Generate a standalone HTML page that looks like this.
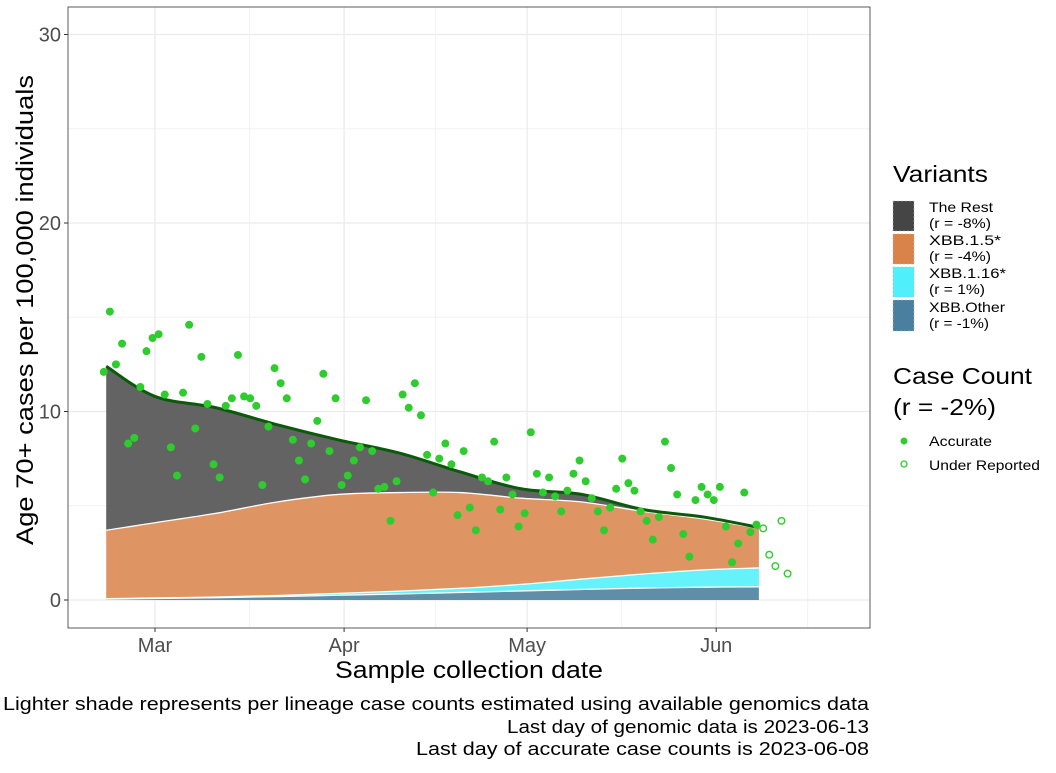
<!DOCTYPE html>
<html><head><meta charset="utf-8"><style>
body{margin:0;background:#fff;width:1056px;height:768px;overflow:hidden;font-family:"Liberation Sans",sans-serif}
svg text{font-family:"Liberation Sans",sans-serif}
</style></head><body>
<svg id="chart" width="1056" height="768" xmlns="http://www.w3.org/2000/svg">
<g id="grid"></g>
<g id="areas"></g>
<g id="pts"></g>
<rect x="68" y="7" width="802" height="621" fill="none" stroke="#333" stroke-width="0.8"/>
<g id="axes"></g>
<text transform="translate(33,310) rotate(-90)" text-anchor="middle" font-size="24" fill="#000" textLength="470" lengthAdjust="spacingAndGlyphs">Age 70+ cases per 100,000 individuals</text>
<text x="469" y="678" text-anchor="middle" font-size="24" fill="#000" textLength="268" lengthAdjust="spacingAndGlyphs">Sample collection date</text>
<g font-size="18" fill="#000" text-anchor="end">
<text x="869" y="710" textLength="866" lengthAdjust="spacingAndGlyphs">Lighter shade represents per lineage case counts estimated using available genomics data</text>
<text x="869" y="733" textLength="362" lengthAdjust="spacingAndGlyphs">Last day of genomic data is 2023-06-13</text>
<text x="869" y="755" textLength="453" lengthAdjust="spacingAndGlyphs">Last day of accurate case counts is 2023-06-08</text>
</g>
<g>
<text x="893" y="182" font-size="23" textLength="95" lengthAdjust="spacingAndGlyphs">Variants</text>
<rect x="893" y="201" width="21" height="30" fill="#454545" stroke="#bbb" stroke-dasharray="2,2" stroke-width="0.6"/>
<rect x="893" y="234" width="21" height="30" fill="#d9824a" stroke="#bbb" stroke-dasharray="2,2" stroke-width="0.6"/>
<rect x="893" y="267" width="21" height="30" fill="#4ff0fb" stroke="#bbb" stroke-dasharray="2,2" stroke-width="0.6"/>
<rect x="893" y="300" width="21" height="31" fill="#4a7fa0" stroke="#bbb" stroke-dasharray="2,2" stroke-width="0.6"/>
<g font-size="14" fill="#000">
<text x="929" y="212" textLength="64" lengthAdjust="spacingAndGlyphs">The Rest</text><text x="929" y="228" textLength="62" lengthAdjust="spacingAndGlyphs">(r = -8%)</text>
<text x="929" y="245" textLength="72" lengthAdjust="spacingAndGlyphs">XBB.1.5*</text><text x="929" y="261" textLength="62" lengthAdjust="spacingAndGlyphs">(r = -4%)</text>
<text x="929" y="278" textLength="77" lengthAdjust="spacingAndGlyphs">XBB.1.16*</text><text x="929" y="294" textLength="56" lengthAdjust="spacingAndGlyphs">(r = 1%)</text>
<text x="929" y="312" textLength="76" lengthAdjust="spacingAndGlyphs">XBB.Other</text><text x="929" y="328" textLength="60" lengthAdjust="spacingAndGlyphs">(r = -1%)</text>
</g>
</g>
<g>
<text x="893" y="384" font-size="23" textLength="139" lengthAdjust="spacingAndGlyphs">Case Count</text>
<text x="893" y="415" font-size="23" textLength="103" lengthAdjust="spacingAndGlyphs">(r = -2%)</text>
<circle cx="904" cy="441" r="3.5" fill="#2ecc2e"/>
<circle cx="904" cy="464" r="3" fill="none" stroke="#2ecc2e" stroke-width="1.3"/>
<text x="929" y="446" font-size="14" textLength="63" lengthAdjust="spacingAndGlyphs">Accurate</text>
<text x="929" y="470" font-size="14" textLength="111" lengthAdjust="spacingAndGlyphs">Under Reported</text>
</g>
</svg>
<script>
// smooth curve knots (day offset from Mar 1)
const knotDays=[-8,0,10,20,30,40,50,60,70,80,90,99];
const xbbOther=[0.05,0.08,0.12,0.18,0.25,0.32,0.4,0.48,0.56,0.63,0.68,0.7];
const xbb116=[0.02,0.03,0.04,0.06,0.1,0.15,0.22,0.35,0.55,0.75,0.92,1.0];
const xbb15=[3.63,3.99,4.44,4.96,5.25,5.23,5.08,4.57,4.09,3.32,2.7,2.1];
const theRest=[8.7,6.7,5.6,4.1,2.9,2.1,1.1,0.5,0.4,0.1,0.1,0.05];
// accurate daily counts starting Feb 21 (day -8)
const accurate=[12.1,15.3,12.5,13.6,8.3,8.6,11.3,13.2,13.9,14.1,10.9,8.1,6.6,11.0,14.6,9.1,12.9,10.4,7.2,6.5,10.3,10.7,13.0,10.8,10.7,10.3,6.1,9.2,12.3,11.5,10.7,8.5,7.4,6.4,8.3,9.5,12.0,7.9,10.7,6.1,6.6,7.4,8.1,10.6,7.9,5.9,6.0,4.2,6.3,10.9,10.2,11.5,9.8,7.7,5.7,7.5,
8.3,7.2,4.5,7.9,4.9,3.7,6.5,6.3,8.4,4.8,6.5,5.6,3.9,4.6,8.9,6.7,5.7,6.5,5.5,4.7,5.8,6.7,7.4,6.3,5.4,4.7,3.7,4.9,5.9,7.5,6.2,5.8,4.7,4.2,3.2,4.4,8.4,7.0,5.6,3.5,2.3,5.3,6.0,5.6,5.3,6.0,3.9,2.0,3.0,5.7,3.6,4.0];
const underReported=[3.8,2.4,1.8,4.2,1.4];
const yTicks=[0,10,20,30];
const monthLabels=["Mar","Apr","May","Jun"];
const monthDays=[0,31,61,92];

const X=d=>155+d*6.1, Y=v=>600-v*18.85;
const NS="http://www.w3.org/2000/svg";
function mk(t,a,p){const e=document.createElementNS(NS,t);for(const k in a)e.setAttribute(k,a[k]);p.appendChild(e);return e;}
const grid=document.getElementById('grid'),axes=document.getElementById('axes');
[5,15,25].forEach(v=>{const l=mk('line',{x1:68,x2:870,y1:Y(v),y2:Y(v),stroke:'#f2f2f2','stroke-width':1},grid);

});
[15.5,46,76.5,107].forEach(d=>{const l=mk('line',{x1:X(d),x2:X(d),y1:7,y2:628,stroke:'#f2f2f2','stroke-width':1},grid);

});
yTicks.forEach(v=>{const l=mk('line',{x1:68,x2:870,y1:Y(v),y2:Y(v),stroke:'#ebebeb','stroke-width':1.3},grid);


mk('line',{x1:64,x2:68,y1:Y(v),y2:Y(v),stroke:'#333'},axes);
const t=mk('text',{x:61,y:Y(v)+7,'text-anchor':'end','font-size':20,fill:'#4d4d4d'},axes);t.textContent=v;

});
monthDays.forEach((d,i)=>{const l=mk('line',{x1:X(d),x2:X(d),y1:7,y2:628,stroke:'#ebebeb','stroke-width':1.3},grid);


mk('line',{x1:X(d),x2:X(d),y1:628,y2:632,stroke:'#333'},axes);
const t=mk('text',{x:X(d),y:652,'text-anchor':'middle','font-size':20,fill:'#4d4d4d'},axes);t.textContent=monthLabels[i];

});
// cumulative series
const n=knotDays.length,c1=[],c2=[],c3=[],c4=[];
for(let i=0;i<n;i++){c1[i]=xbbOther[i];c2[i]=c1[i]+xbb116[i];c3[i]=c2[i]+xbb15[i];c4[i]=c3[i]+theRest[i];}
function pts(arr){return knotDays.map((d,i)=>[X(d),Y(arr[i])]);}
function curve(p){let s='';for(let i=0;i<p.length-1;i++){const p0=p[i-1]||p[i],p1=p[i],p2=p[i+1],p3=p[i+2]||p2;
const a=[p1[0]+(p2[0]-p0[0])/6,p1[1]+(p2[1]-p0[1])/6],b=[p2[0]-(p3[0]-p1[0])/6,p2[1]-(p3[1]-p1[1])/6];
s+=` C${a[0]},${a[1]} ${b[0]},${b[1]} ${p2[0]},${p2[1]}`;}return s;}
function band(lo,hi,fill,name){const ph=pts(hi),pl=lo?pts(lo).reverse():null;
let d=`M${ph[0][0]},${ph[0][1]}`+curve(ph);
if(pl){d+=` L${pl[0][0]},${pl[0][1]}`+curve(pl);}else{d+=` L${X(knotDays[n-1])},${Y(0)} L${X(knotDays[0])},${Y(0)}`;}
d+='Z';const e=mk('path',{d:d,fill:fill},document.getElementById('areas'));

}
band(null,c1,'#5f8fa8','area-xbb-other');
band(c1,c2,'#66f2fa','area-xbb-116');
band(c2,c3,'#de9563','area-xbb-15');
band(c3,c4,'#636363','area-the-rest');
[c1,c2,c3].forEach(c=>{const p=pts(c);const e=mk('path',{d:`M${p[0][0]},${p[0][1]}`+curve(p),fill:'none',stroke:'#fff','stroke-width':1.3},document.getElementById('areas'));

});
const tp=pts(c4);const tl=mk('path',{d:`M${tp[0][0]},${tp[0][1]}`+curve(tp),fill:'none',stroke:'#0a5a0a','stroke-width':3},document.getElementById('areas'));


const pg=document.getElementById('pts');
accurate.forEach((v,i)=>{const c=mk('circle',{cx:X(i-8.4),cy:Y(v),r:4,fill:'#2ecc2e'},pg);

});
underReported.forEach((v,i)=>{const c=mk('circle',{cx:X(99.7+i),cy:Y(v),r:3.3,fill:'none',stroke:'#2ecc2e','stroke-width':1.4},pg);

});
</script>
</body></html>
